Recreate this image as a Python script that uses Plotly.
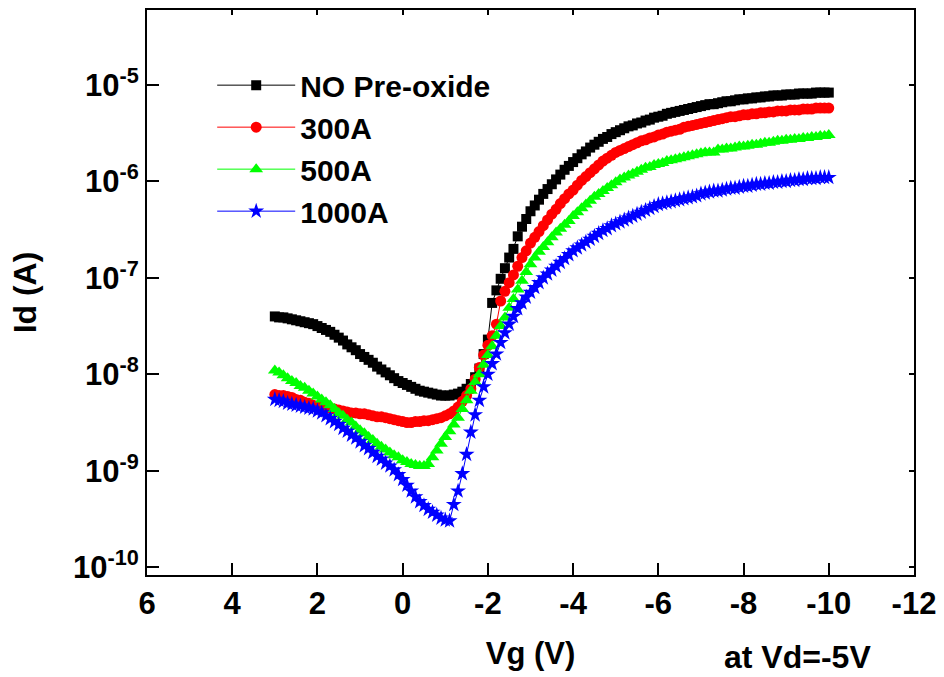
import plotly.graph_objects as go

# Gate sweep: Vg from +3 V down to -10 V in 0.1 V steps
VG = [round(3.0 - 0.1 * i, 1) for i in range(131)]

# log10(Id / A) for each oxide condition, one value per Vg step
NO_PREOX_LOG = [
    -7.40, -7.41, -7.41, -7.42, -7.43, -7.44, -7.45, -7.46, -7.47, -7.48, -7.50,  # 3.0 .. 2.0
    -7.52, -7.54, -7.56, -7.59, -7.62, -7.65, -7.69, -7.72, -7.75, -7.79,  # 1.9 .. 1.0
    -7.82, -7.85, -7.88, -7.92, -7.95, -7.98, -8.01, -8.04, -8.07, -8.09,  # 0.9 .. 0.0
    -8.11, -8.13, -8.15, -8.17, -8.18, -8.19, -8.20, -8.21, -8.22, -8.22,  # -0.1 .. -1.0
    -8.22, -8.21, -8.20, -8.18, -8.15, -8.10, -8.03, -7.94, -7.79, -7.64,  # -1.1 .. -2.0
    -7.26, -7.13, -7.01, -6.90, -6.79, -6.70, -6.57, -6.47, -6.39, -6.31,  # -2.1 .. -3.0
    -6.25, -6.19, -6.13, -6.08, -6.03, -5.98, -5.93, -5.88, -5.84, -5.80,  # -3.1 .. -4.0
    -5.76, -5.72, -5.69, -5.65, -5.62, -5.59, -5.56, -5.54, -5.51, -5.49,  # -4.1 .. -5.0
    -5.47, -5.45, -5.43, -5.42, -5.40, -5.39, -5.37, -5.36, -5.34, -5.33,  # -5.1 .. -6.0
    -5.32, -5.30, -5.29, -5.28, -5.27, -5.26, -5.25, -5.24, -5.23, -5.22,  # -6.1 .. -7.0
    -5.21, -5.20, -5.20, -5.19, -5.18, -5.17, -5.17, -5.16, -5.15, -5.15,  # -7.1 .. -8.0
    -5.14, -5.14, -5.13, -5.13, -5.12, -5.12, -5.11, -5.11, -5.11, -5.10,  # -8.1 .. -9.0
    -5.10, -5.10, -5.09, -5.09, -5.09, -5.09, -5.08, -5.08, -5.08, -5.08,  # -9.1 .. -10.0
]

OX300_LOG = [
    -8.21, -8.22, -8.22, -8.23, -8.24, -8.26, -8.27, -8.29, -8.30, -8.32, -8.33,
    -8.34, -8.35, -8.35, -8.36, -8.37, -8.38, -8.39, -8.40, -8.40, -8.41,
    -8.41, -8.42, -8.43, -8.44, -8.44, -8.45, -8.46, -8.47, -8.48, -8.49,
    -8.50, -8.50, -8.49, -8.49, -8.48, -8.48, -8.47, -8.46, -8.45, -8.43,
    -8.41, -8.38, -8.34, -8.28, -8.22, -8.15, -8.05, -7.93, -7.80, -7.70,
    -7.60, -7.48, -7.24, -7.14, -7.05, -6.97, -6.88, -6.79, -6.72, -6.64,
    -6.58, -6.52, -6.46, -6.40, -6.34, -6.29, -6.23, -6.18, -6.13, -6.09,
    -6.04, -5.99, -5.95, -5.91, -5.87, -5.83, -5.79, -5.76, -5.73, -5.70,
    -5.68, -5.66, -5.64, -5.62, -5.60, -5.58, -5.57, -5.55, -5.54, -5.52,
    -5.51, -5.49, -5.48, -5.47, -5.46, -5.44, -5.43, -5.42, -5.41, -5.40,
    -5.39, -5.38, -5.37, -5.36, -5.35, -5.34, -5.33, -5.33, -5.32, -5.31,
    -5.31, -5.30, -5.30, -5.29, -5.29, -5.28, -5.28, -5.27, -5.27, -5.27,
    -5.26, -5.26, -5.26, -5.25, -5.25, -5.25, -5.24, -5.24, -5.24, -5.24,
]

OX500_LOG = [
    -7.96, -7.98, -8.01, -8.04, -8.07, -8.09, -8.12, -8.14, -8.17, -8.20, -8.23,
    -8.26, -8.29, -8.32, -8.36, -8.40, -8.43, -8.47, -8.50, -8.54, -8.58,
    -8.61, -8.65, -8.68, -8.72, -8.75, -8.78, -8.81, -8.84, -8.86, -8.89,
    -8.91, -8.93, -8.94, -8.95, -8.95, -8.93, -8.86, -8.79, -8.72, -8.65,
    -8.59, -8.52, -8.45, -8.36, -8.27, -8.17, -8.08, -8.00, -7.90, -7.80,
    -7.71, -7.60, -7.50, -7.41, -7.31, -7.22, -7.12, -7.03, -6.94, -6.86,
    -6.79, -6.73, -6.68, -6.63, -6.58, -6.53, -6.49, -6.45, -6.41, -6.36,
    -6.32, -6.28, -6.24, -6.20, -6.16, -6.13, -6.10, -6.07, -6.04, -6.01,
    -5.98, -5.96, -5.94, -5.92, -5.90, -5.88, -5.86, -5.85, -5.83, -5.82,
    -5.81, -5.79, -5.78, -5.77, -5.76, -5.75, -5.74, -5.73, -5.72, -5.71,
    -5.70, -5.70, -5.70, -5.67, -5.67, -5.66, -5.66, -5.65, -5.64, -5.64,
    -5.63, -5.62, -5.62, -5.61, -5.60, -5.60, -5.59, -5.58, -5.58, -5.57,
    -5.57, -5.56, -5.56, -5.55, -5.55, -5.54, -5.54, -5.53, -5.53, -5.52,
]

OX1000_LOG = [
    -8.26, -8.27, -8.28, -8.30, -8.31, -8.32, -8.33, -8.34, -8.35, -8.36, -8.38,
    -8.40, -8.43, -8.46, -8.49, -8.52, -8.56, -8.59, -8.63, -8.66, -8.70,
    -8.74, -8.77, -8.81, -8.85, -8.88, -8.92, -8.95, -8.99, -9.04, -9.09,
    -9.15, -9.21, -9.27, -9.32, -9.36, -9.40, -9.43, -9.46, -9.49, -9.51,
    -9.52, -9.35, -9.21, -9.03, -8.83, -8.60, -8.42, -8.27, -8.13, -8.00,
    -7.89, -7.79, -7.67, -7.57, -7.48, -7.40, -7.32, -7.26, -7.20, -7.15,
    -7.10, -7.05, -7.00, -6.96, -6.92, -6.88, -6.84, -6.80, -6.76, -6.72,
    -6.69, -6.66, -6.63, -6.60, -6.57, -6.54, -6.51, -6.49, -6.46, -6.44,
    -6.42, -6.40, -6.38, -6.36, -6.34, -6.32, -6.30, -6.28, -6.26, -6.24,
    -6.23, -6.22, -6.21, -6.20, -6.19, -6.18, -6.17, -6.16, -6.15, -6.13,
    -6.12, -6.11, -6.10, -6.10, -6.09, -6.08, -6.07, -6.07, -6.06, -6.05,
    -6.05, -6.04, -6.03, -6.03, -6.02, -6.02, -6.01, -6.01, -6.00, -6.00,
    -5.99, -5.99, -5.98, -5.98, -5.97, -5.97, -5.97, -5.96, -5.96, -5.96,
]

NAMES = ["NO Pre-oxide", "300A", "500A", "1000A"]
COLORS = ["#000000", "#ff0000", "#00ff00", "#0000ff"]
SYMBOLS = ["square", "circle", "triangle-up", "star"]
SIZES = [10, 11, 12, 12]

X_TICKS = [6, 4, 2, 0, -2, -4, -6, -8, -10, -12]
Y_EXPONENTS = [-10, -9, -8, -7, -6, -5]

X_RANGE = [6, -12]
Y_RANGE = [-10.08, -4.224]

FONT = "Liberation Sans, Arial, sans-serif"

fig = go.Figure()

for name, logs, color, symbol, size in zip(
    NAMES, [NO_PREOX_LOG, OX300_LOG, OX500_LOG, OX1000_LOG], COLORS, SYMBOLS, SIZES
):
    assert len(logs) == len(VG)
    fig.add_trace(
        go.Scatter(
            x=VG,
            y=[10 ** v for v in logs],
            mode="lines+markers",
            name=name,
            line=dict(color=color, width=1),
            marker=dict(symbol=symbol, size=size, color=color, line=dict(width=0)),
        )
    )

# empty trace that carries the short mirror ticks on the top and right edges
fig.add_trace(go.Scatter(x=[], y=[], xaxis="x2", yaxis="y2", showlegend=False, hoverinfo="skip"))

axis_common = dict(
    showgrid=False,
    zeroline=False,
    linecolor="black",
    linewidth=2,
    tickcolor="black",
)

fig.update_layout(
    width=944,
    height=677,
    margin=dict(l=147, r=25, t=8, b=102),
    paper_bgcolor="white",
    plot_bgcolor="white",
    font=dict(family=FONT, color="black"),
    xaxis=dict(
        range=X_RANGE,
        tickmode="array",
        tickvals=X_TICKS,
        ticktext=[str(v) for v in X_TICKS],
        ticks="inside",
        ticklen=12,
        tickwidth=2,
        showline=True,
        mirror=True,
        tickfont=dict(family=FONT, size=31, weight="bold", color="black"),
        title=dict(text="Vg (V)", font=dict(family=FONT, size=31, weight="bold"), standoff=22),
        **axis_common,
    ),
    yaxis=dict(
        type="log",
        range=Y_RANGE,
        tickmode="array",
        tickvals=[10.0 ** e for e in Y_EXPONENTS],
        ticktext=[f"10<sup>{e}</sup>" for e in Y_EXPONENTS],
        ticks="inside",
        ticklen=12,
        tickwidth=2,
        showline=True,
        mirror=True,
        tickfont=dict(family=FONT, size=31, weight="bold", color="black"),
        title=dict(text="Id (A)", font=dict(family=FONT, size=32, weight="bold"), standoff=27),
        **axis_common,
    ),
    xaxis2=dict(
        overlaying="x",
        anchor="y2",
        side="top",
        range=X_RANGE,
        tickmode="array",
        tickvals=X_TICKS,
        ticks="inside",
        ticklen=5,
        tickwidth=1.5,
        showticklabels=False,
        showline=False,
        **axis_common,
    ),
    yaxis2=dict(
        overlaying="y",
        anchor="x2",
        side="right",
        type="log",
        range=Y_RANGE,
        tickmode="array",
        tickvals=[10.0 ** e for e in Y_EXPONENTS],
        ticks="inside",
        ticklen=5,
        tickwidth=1.5,
        showticklabels=False,
        showline=False,
        **axis_common,
    ),
    legend=dict(
        x=0.085,
        y=0.913,
        xanchor="left",
        yanchor="top",
        bgcolor="rgba(0,0,0,0)",
        borderwidth=0,
        font=dict(family=FONT, size=30, weight="bold", color="black"),
        itemwidth=78,
        tracegroupgap=0,
    ),
    showlegend=True,
    annotations=[
        dict(
            text="at Vd=-5V",
            xref="paper",
            yref="paper",
            x=0.848,
            y=-0.145,
            xanchor="center",
            yanchor="middle",
            showarrow=False,
            font=dict(family=FONT, size=32, weight="bold", color="black"),
        )
    ],
)

fig.write_html("out.html")
